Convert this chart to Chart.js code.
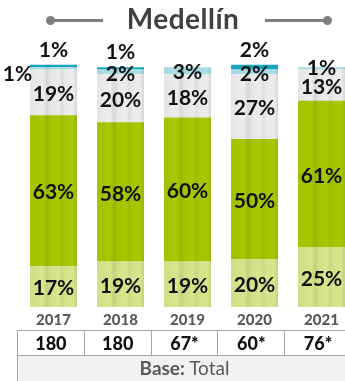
<!DOCTYPE html>
<html>
<head>
<meta charset="utf-8">
<script src="https://cdn.jsdelivr.net/npm/chart.js@4.4.0/dist/chart.umd.min.js"></script>
<style>
  html, body { margin: 0; padding: 0; background: #fff; }
  body { width: 345px; height: 381px; overflow: hidden; position: relative; font-family: Lato, "Open Sans", sans-serif; }
  #wrap { position: absolute; left: 0; top: 0; width: 360px; height: 333px; }
  #titulo { position: absolute; left: 0; top: 1px; width: 366px; text-align: center; font-weight: bold; font-size: 28px; color: #404040; letter-spacing: 0.5px; }
  .linea { position: absolute; top: 19px; height: 3px; background: #808080; }
  .punto { position: absolute; top: 16px; width: 9px; height: 9px; border-radius: 50%; background: #808080; }
  #tabla { position: absolute; left: 17px; top: 330px; border-collapse: collapse; table-layout: fixed; width: 335px; }
  #tabla td { border: 1.5px solid #a6a6a6; text-align: center; padding: 0; }
  #tabla .n td { height: 24px; font-weight: 900; font-size: 18px; color: #111; }
  #tabla .b td { height: 26px; background: #f2f2f2; font-size: 19px; line-height: 20px; color: #595959; vertical-align: top; padding-top: 2px; }
</style>
</head>
<body>
<div id="wrap"><canvas id="grafico" width="360" height="333"></canvas></div>
<div class="punto" style="left:46px"></div>
<div class="linea" style="left:50px;width:53px"></div>
<div id="titulo">Medellín</div>
<div class="linea" style="left:265px;width:62px"></div>
<div class="punto" style="left:323px"></div>
<table id="tabla">
  <tr class="n" id="filaBase"></tr>
  <tr class="b"><td colspan="5"><b>Base:</b> Total</td></tr>
</table>
<script>
const anios = ['2017', '2018', '2019', '2020', '2021'];
const bases = ['180', '180', '67*', '60*', '76*'];

// segmentos de abajo hacia arriba
const serieBaja = [17, 19, 19, 20, 25];
const serieVerde = [63, 58, 60, 50, 61];
const serieGris = [19, 20, 18, 27, 13];
const serieCian = [1, 2, 3, 2, 1];
const serieAzul = [1, 1, 0, 2, 0];

const colores = ['#d7e58c', '#a7c700', '#ececec', '#a9dfe7', '#17a7c5'];

document.getElementById('filaBase').innerHTML = bases.map(b => '<td>' + b + '</td>').join('');

const series = [serieBaja, serieVerde, serieGris, serieCian, serieAzul];

// franjas verticales sobre cada columna
const franjas = {
  id: 'franjas',
  afterDatasetsDraw(chart) {
    const ctx = chart.ctx;
    const metas = chart.data.datasets.map((d, i) => chart.getDatasetMeta(i));
    anios.forEach((a, j) => {
      const base = metas[0].data[j];
      let top = base.y;
      metas.forEach((m, i) => { if (series[i][j] > 0) top = Math.min(top, m.data[j].y); });
      const x0 = base.x - base.width / 2, w = base.width;
      const g = ctx.createLinearGradient(x0, 0, x0 + w, 0);
      g.addColorStop(0, 'rgba(0,0,0,0.03)');
      g.addColorStop(0.28, 'rgba(0,0,0,0)');
      g.addColorStop(0.36, 'rgba(0,0,0,0.09)');
      g.addColorStop(0.45, 'rgba(0,0,0,0.02)');
      g.addColorStop(0.62, 'rgba(0,0,0,0)');
      g.addColorStop(0.68, 'rgba(0,0,0,0.06)');
      g.addColorStop(0.76, 'rgba(0,0,0,0.01)');
      g.addColorStop(0.92, 'rgba(0,0,0,0)');
      g.addColorStop(1, 'rgba(0,0,0,0.1)');
      ctx.save();
      ctx.fillStyle = g;
      ctx.fillRect(x0, top, w, base.base - top);
      ctx.restore();
    });
  }
};

// etiquetas de porcentaje
const etiquetas = {
  id: 'etiquetas',
  afterDatasetsDraw(chart) {
    const ctx = chart.ctx;
    ctx.save();
    ctx.font = 'bold 21px Lato';
    ctx.fillStyle = '#111';
    ctx.textAlign = 'center';
    ctx.textBaseline = 'middle';
    series.forEach((serie, i) => {
      const meta = chart.getDatasetMeta(i);
      serie.forEach((v, j) => {
        if (!v) return;
        const el = meta.data[j];
        let x = el.x, y = (el.y + el.base) / 2 + 2;
        if (i === 4) y = el.y - 15;
        if (i === 3) {
          y = el.y + 5;
          if (serieAzul[j] > 0 && j === 0) { x = el.x - 36; y = el.y + 7; }
          if (j === 4) y = el.y + 1;
        }
        ctx.fillText(v + '%', x, y);
      });
    });
    ctx.restore();
  }
};

new Chart(document.getElementById('grafico'), {
  type: 'bar',
  data: {
    labels: anios,
    datasets: series.map((s, i) => ({
      data: s,
      backgroundColor: colores[i],
      borderWidth: 0,
      barPercentage: 0.7,
      categoryPercentage: 1
    }))
  },
  options: {
    responsive: false,
    animation: false,
    devicePixelRatio: 1,
    layout: { padding: { left: 20, right: 5, top: 0, bottom: 0 } },
    plugins: { legend: { display: false }, tooltip: { enabled: false } },
    scales: {
      x: {
        stacked: true,
        grid: { display: false, drawTicks: false, tickLength: 0 },
        border: { display: false },
        ticks: { color: '#595959', font: { family: 'Lato', weight: '900', size: 15 }, padding: 4 },
        afterFit(scale) { scale.height = 26; }
      },
      y: { stacked: true, display: false, min: 0, max: 128 }
    }
  },
  plugins: [franjas, etiquetas]
});
</script>
</body>
</html>
